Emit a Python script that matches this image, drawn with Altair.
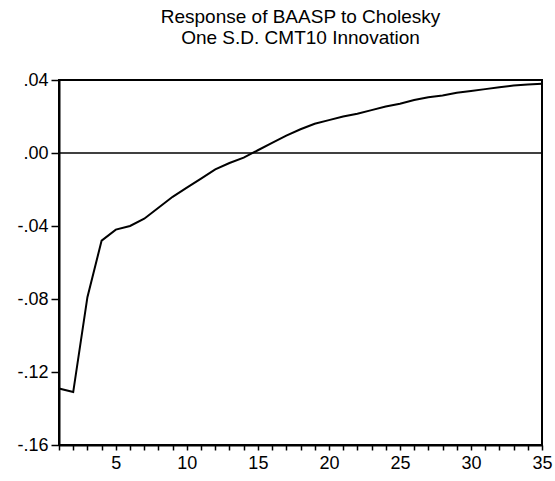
import altair as alt
import pandas as pd

periods = list(range(1, 36))
response = [-0.129, -0.131, -0.079, -0.048, -0.042, -0.040, -0.036, -0.030, -0.024, -0.019,
            -0.014, -0.009, -0.0055, -0.0025, 0.0015, 0.0055, 0.0095, 0.013, 0.016, 0.018,
            0.020, 0.0215, 0.0235, 0.0255, 0.027, 0.029, 0.0305, 0.0315, 0.033, 0.034,
            0.035, 0.036, 0.037, 0.0375, 0.038]
y_ticks = [-0.16, -0.12, -0.08, -0.04, 0.0, 0.04]
title_lines = ["Response of BAASP to Cholesky", "One S.D. CMT10 Innovation"]

df = pd.DataFrame({"t": periods, "v": response})
zero = pd.DataFrame({"z": [0.0]})

FONT = "Liberation Sans"

x_enc = alt.X("t:Q", scale=alt.Scale(domain=[1, 35], nice=False, zero=False),
              axis=alt.Axis(values=periods, title=None, grid=False,
                            labelExpr="datum.value % 5 == 0 ? datum.label : ''",
                            tickSize=5, tickColor="black", tickWidth=1.5,
                            domainColor="black", domainWidth=2,
                            labelFont=FONT, labelFontSize=18, labelColor="black",
                            labelPadding=4, labelFlush=False, labelOverlap=False))
y_enc = alt.Y("v:Q", scale=alt.Scale(domain=[-0.16, 0.04], nice=False, zero=False),
              axis=alt.Axis(values=y_ticks, title=None, grid=False,
                            labelExpr="replace(replace(format(datum.value, '.2f'), '0.', '.'), '\u2212', '-')",
                            tickSize=8, tickColor="black", tickWidth=1.5,
                            domainColor="black", domainWidth=2,
                            labelFont=FONT, labelFontSize=18, labelColor="black",
                            labelPadding=3, labelFlush=False, labelOverlap=False))

line = alt.Chart(df).mark_line(color="black", strokeWidth=2).encode(x=x_enc, y=y_enc)
rule = alt.Chart(zero).mark_rule(color="black", strokeWidth=1.3).encode(y=alt.Y("z:Q"))

chart = alt.layer(rule, line).properties(
    width=483, height=365,
    background="white",
    title=alt.TitleParams(text=title_lines, font=FONT, fontSize=19, fontWeight="normal",
                          color="black", anchor="middle", baseline="alphabetic",
                          lineHeight=21, offset=8),
    padding={"left": 59, "top": 80, "right": 13, "bottom": 36},
    autosize=alt.AutoSizeParams(type="none"),
).configure_view(stroke="black", strokeWidth=2)

chart.save("out.html", embed_options={"renderer": "svg", "actions": False})
